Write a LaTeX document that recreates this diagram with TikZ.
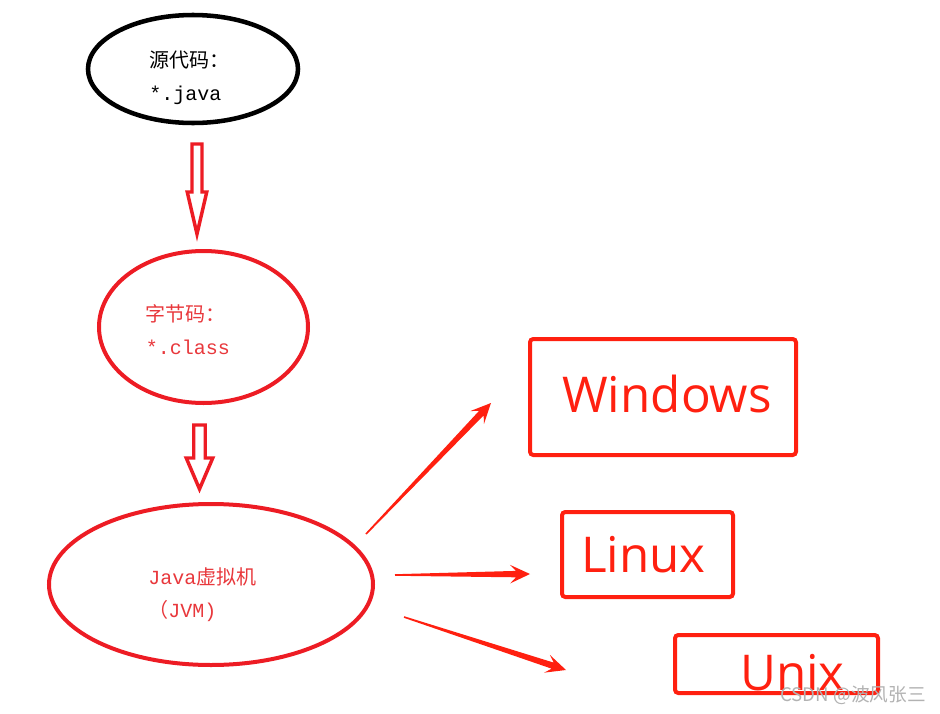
\documentclass[tikz,border=0pt]{standalone}
\usepackage{fontspec}
\setmainfont{Open Sans}
\setmonofont{Liberation Mono}
\newfontfamily\cjk{Noto Sans CJK SC}
\usetikzlibrary{shapes.geometric,calc}
\definecolor{inkred}{RGB}{237,28,36}
\definecolor{boxred}{RGB}{255,32,16}
\definecolor{textred}{RGB}{232,56,60}

% x, top of shaft, start of head, tip, half shaft, half head
\newcommand\hollowdown[6]{%
	\draw[inkred,line width=2.6pt,fill=white,line join=miter]
	(#1-#5,#2) -- (#1+#5,#2) -- (#1+#5,#3) -- (#1+#6,#3) -- (#1,#4) -- (#1-#6,#3) -- (#1-#5,#3) -- cycle;}

% thin at the start, wide at the head
\newcommand\taperarrow[2]{%
	\coordinate (hb) at ($(#2)!15pt!(#1)$);
	\coordinate (hn) at ($(#2)!10.5pt!(#1)$);
	\fill[boxred] ($(#1)!.6pt!90:(#2)$) -- ($(hn)!2.4pt!90:(#2)$) -- ($(hb)!7pt!90:(#2)$) -- (#2)
	-- ($(hb)!7pt!-90:(#2)$) -- ($(hn)!2.4pt!-90:(#2)$) -- ($(#1)!.6pt!-90:(#2)$) -- cycle;}

\begin{document}
\begin{tikzpicture}[x=.75pt,y=-.75pt,
		srcnode/.style={ellipse,draw,line width=3.4pt,inner sep=0},
		codenode/.style={ellipse,draw=inkred,line width=3pt,inner sep=0},
		osbox/.style={draw=boxred,line width=3pt,rounded corners=2.5pt,inner sep=0},
		ostext/.style={text=boxred,font=\fontsize{37}{40}\selectfont,inner sep=0},
		inside/.style={align=left,anchor=west,inner sep=0,font=\fontsize{15}{24.75}\selectfont}]
	\useasboundingbox (0,0) rectangle (940,714);
	%\draw[help lines] (0,0) grid[step=50] (940,714);
	
	\node[srcnode,minimum width=157.5pt,minimum height=81pt] (src) at (193,69) {};
	\node[codenode,minimum width=156.75pt,minimum height=114pt] (byte) at (203.5,327) {};
	\node[codenode,minimum width=243pt,minimum height=120.75pt] (jvm) at (211,584.5) {};
	
	\node[inside] at ($(src)+(-44,9)$) {{\cjk 源代码：}\\{\ttfamily *.java}};
	\node[inside,text=textred] at ($(byte)+(-58,3)$) {{\cjk 字节码：}\\{\ttfamily *.class}};
	\node[inside,text=textred] at ($(jvm)+(-63,10)$) {{\ttfamily Java}{\cjk 虚拟机}\\{\cjk （}{\ttfamily JVM)}};
	
	\hollowdown{197}{144}{192}{234}{5}{9.75}
	\hollowdown{199.5}{425}{458}{489}{5.75}{13.25}
	
	\node[osbox,minimum width=199.5pt,minimum height=87pt] (win) at (663,397) {};
	\node[osbox,minimum width=128.25pt,minimum height=63.75pt] (linux) at (647.5,554.5) {};
	\node[osbox,minimum width=152.25pt,minimum height=43.5pt] (unix) at (776.5,664) {};
	
	\node[ostext] at ($(win)+(4,-3)$) {Windows};
	\node[ostext] at ($(linux)+(-4,0)$) {Linux};
	\node[ostext] at ($(unix)+(16,9)$) {Unix};
	
	\coordinate (wfrom) at (366,534);
	\coordinate (wto) at (491,403);
	\coordinate (lfrom) at (395,575);
	\coordinate (lto) at (530,574);
	\coordinate (ufrom) at (404,617);
	\coordinate (uto) at (566,670);
	\taperarrow{wfrom}{wto}
	\taperarrow{lfrom}{lto}
	\taperarrow{ufrom}{uto}
	
	\node[text=black!30,font=\cjk\fontsize{14}{14}\selectfont,anchor=east,inner sep=0] (mark) at (926,695) {CSDN @波风张三};
\end{tikzpicture}
\end{document}
